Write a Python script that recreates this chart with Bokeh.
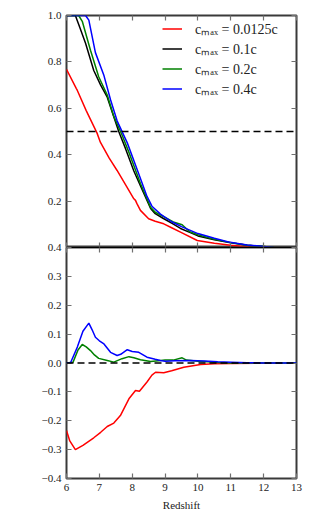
import math
from bokeh.plotting import figure
from bokeh.layouts import column
from bokeh.models import (LinearAxis, FixedTicker, Span, Label, Legend,
                          LegendItem, Range1d)
from bokeh.embed import file_html
from bokeh.resources import INLINE

# ---------------- data ----------------
z_black = [6.0, 6.27, 6.4, 6.58, 6.83, 7.04, 7.24, 7.4, 7.59, 7.8, 8.05, 8.3,
           8.56, 8.7, 8.95, 9.2, 9.47, 9.75, 10.0, 10.5, 11.0, 11.5, 12.0, 12.3]
q_black = [1.0, 1.0, 0.95, 0.88, 0.763, 0.70, 0.648, 0.58, 0.50, 0.425, 0.33,
           0.25, 0.168, 0.146, 0.125, 0.105, 0.082, 0.065, 0.05, 0.033, 0.02,
           0.01, 0.004, 0.0]

z_red = [6.0, 6.3, 6.33, 6.6, 6.93, 7.03, 7.3, 7.54, 7.8, 8.05, 8.1, 8.14,
         8.25, 8.5, 8.7, 8.96, 9.2, 9.47, 9.98, 10.5, 11.0, 11.4, 11.75]
q_red = [0.768, 0.685, 0.677, 0.59, 0.493, 0.454, 0.385, 0.332, 0.27, 0.21,
         0.203, 0.19, 0.16, 0.124, 0.113, 0.102, 0.085, 0.066, 0.03, 0.018,
         0.01, 0.004, 0.0]

z_green = [6.0, 6.37, 6.48, 6.73, 6.98, 7.24, 7.44, 7.69, 7.9, 8.25, 8.56,
           8.7, 9.0, 9.25, 9.52, 9.75, 10.0, 10.5, 11.0, 11.5, 12.0, 12.3]
q_green = [1.0, 1.0, 0.975, 0.85, 0.736, 0.657, 0.565, 0.485, 0.41, 0.276,
           0.173, 0.152, 0.13, 0.11, 0.098, 0.068, 0.055, 0.035, 0.021, 0.01,
           0.004, 0.0]

z_blue = [6.0, 6.58, 6.68, 6.88, 7.14, 7.34, 7.54, 7.85, 8.2, 8.45, 8.6, 8.86,
          9.2, 9.5, 10.0, 10.5, 10.93, 11.5, 12.0, 12.3]
q_blue = [1.0, 1.0, 0.98, 0.84, 0.741, 0.637, 0.546, 0.451, 0.317, 0.22, 0.178,
          0.144, 0.111, 0.09, 0.06, 0.04, 0.024, 0.011, 0.004, 0.0]

# differences with respect to the fiducial (c_max = 0.1c) run
dz_red = [6.0, 6.1, 6.27, 6.5, 6.83, 7.04, 7.24, 7.44, 7.64, 7.9, 8.1, 8.22,
          8.45, 8.6, 8.71, 8.96, 9.2, 9.57, 10.08, 10.5, 11.0, 12.0, 12.5]
d_red = [-0.234, -0.27, -0.30, -0.285, -0.259, -0.24, -0.22, -0.208, -0.182,
         -0.124, -0.095, -0.098, -0.066, -0.042, -0.032, -0.034, -0.027,
         -0.015, -0.005, -0.003, -0.002, -0.001, 0.0]

dz_green = [6.0, 6.2, 6.35, 6.48, 6.6, 6.73, 6.85, 6.98, 7.24, 7.44, 7.69, 7.9,
            8.05, 8.25, 8.56, 8.8, 9.0, 9.25, 9.52, 9.65, 10.0, 10.3, 10.6,
            11.0, 12.0, 13.0]
d_green = [0.0, 0.003, 0.045, 0.064, 0.056, 0.043, 0.028, 0.016, 0.009, 0.003,
           0.015, 0.022, 0.018, 0.011, 0.005, 0.008, 0.01, 0.01, 0.018, 0.01,
           0.006, 0.004, 0.002, 0.0, 0.0, 0.0]

dz_blue = [6.0, 6.12, 6.33, 6.5, 6.68, 6.78, 6.88, 7.0, 7.14, 7.34, 7.54, 7.65,
           7.85, 8.0, 8.2, 8.45, 8.7, 8.86, 9.0, 9.3, 9.77, 10.2, 10.6, 11.0,
           11.5, 12.0, 13.0]
d_blue = [0.0, 0.0, 0.055, 0.11, 0.138, 0.115, 0.089, 0.077, 0.066, 0.037,
          0.026, 0.03, 0.046, 0.04, 0.037, 0.02, 0.013, 0.009, 0.006, 0.008,
          0.009, 0.007, 0.004, 0.003, 0.001, 0.0, 0.0]

legend_labels = ["c\u2098\u2090\u2093 = 0.0125c", "c\u2098\u2090\u2093 = 0.1c",
                 "c\u2098\u2090\u2093 = 0.2c", "c\u2098\u2090\u2093 = 0.4c"]
colors = ["#ff0000", "#000000", "#008000", "#0000ff"]

q_half = 0.5
d_zero = 0.0
z_ticks = [6, 7, 8, 9, 10, 11, 12, 13]
q_ticks = [0.2, 0.4, 0.6, 0.8, 1.0]
d_ticks = [-0.4, -0.3, -0.2, -0.1, 0.0, 0.1, 0.2, 0.3, 0.4]

FONT = "Liberation Serif"
FRAME = "#3a3a3a"
TICK = "#707070"


def fmt(t, decimals):
    return f"{t:.{decimals}f}".replace("-", "\u2212")


def style_axis(ax, ticks, labels=True, decimals=1, line_color=None, line_width=1):
    ax.axis_line_color = line_color
    ax.axis_line_width = line_width
    ax.major_tick_in = 5
    ax.major_tick_out = 0
    ax.major_tick_line_color = TICK
    ax.major_tick_line_width = 1.2
    ax.minor_tick_line_color = None
    ax.major_label_text_font = FONT
    ax.major_label_text_color = "#222222"
    if labels:
        ax.major_label_overrides = {t: fmt(t, decimals) for t in ticks}
        ax.major_label_text_font_size = "11px"
        ax.major_label_standoff = 5
    else:
        ax.major_label_overrides = {t: "" for t in ticks}
        ax.major_label_text_font_size = "0px"
        ax.major_label_standoff = 0
    ax.axis_label_standoff = 0


def add_axis(p, ticks, side, **kw):
    ax = LinearAxis(ticker=FixedTicker(ticks=ticks))
    style_axis(ax, ticks, **kw)
    p.add_layout(ax, side)
    return ax


# ---------------- top panel ----------------
p1 = figure(frame_width=230, frame_height=232, x_range=Range1d(6, 13),
            y_range=Range1d(0, 1), x_axis_type=None, y_axis_type=None,
            output_backend="svg", toolbar_location=None,
            min_border_left=66, min_border_right=12, min_border_top=15,
            min_border_bottom=0)
p1.outline_line_color = FRAME
p1.outline_line_width = 2
p1.background_fill_color = "white"

add_axis(p1, q_ticks, "left", decimals=1)
add_axis(p1, q_ticks, "right", labels=False)
add_axis(p1, z_ticks, "above", labels=False)
add_axis(p1, z_ticks, "below", labels=False)

p1.add_layout(Span(location=q_half, dimension="width", line_color="black",
                   line_dash="7 4", line_width=1.5))

r_red = p1.line(z_red, q_red, line_color=colors[0], line_width=1.5)
r_black = p1.line(z_black, q_black, line_color=colors[1], line_width=1.5)
r_green = p1.line(z_green, q_green, line_color=colors[2], line_width=1.5)
r_blue = p1.line(z_blue, q_blue, line_color=colors[3], line_width=1.5)

legend = Legend(items=[LegendItem(label=l, renderers=[r]) for l, r in
                       zip(legend_labels, [r_red, r_black, r_green, r_blue])],
                location=(96, 149), padding=0, margin=0, spacing=1,
                glyph_width=20, glyph_height=13, label_height=13,
                label_standoff=13, label_text_font=FONT,
                label_text_font_size="14px", label_text_color="#222222",
                border_line_color=None, background_fill_alpha=0)
p1.add_layout(legend)

lab_kw = dict(x_units="screen", y_units="screen", angle=math.pi / 2,
              text_font=FONT, text_align="left", text_baseline="alphabetic",
              text_color="#222222")
p1.add_layout(Label(x=-33, y=114, text="Q", text_font_style="italic",
                    text_font_size="10.5px", **lab_kw))
p1.add_layout(Label(x=-31, y=121.6, text="HII", text_font_size="7.5px", **lab_kw))

# ---------------- bottom panel ----------------
p2 = figure(frame_width=230, frame_height=231, x_range=Range1d(6, 13),
            y_range=Range1d(-0.4, 0.4), x_axis_type=None, y_axis_type=None,
            output_backend="svg", toolbar_location=None,
            min_border_left=66, min_border_right=12, min_border_top=8,
            min_border_bottom=30)
p2.outline_line_color = FRAME
p2.outline_line_width = 2
p2.border_fill_color = None
p2.background_fill_color = "white"
p2.margin = (-8, 0, 0, 0)

add_axis(p2, d_ticks, "left", decimals=1)
add_axis(p2, d_ticks, "right", labels=False)
add_axis(p2, z_ticks, "above", labels=False, line_color="black", line_width=1.2)
ax_b = add_axis(p2, z_ticks, "below", decimals=0)
ax_b.axis_label = "Redshift"
ax_b.axis_label_text_font = FONT
ax_b.axis_label_text_font_style = "normal"
ax_b.axis_label_text_font_size = "11px"
ax_b.axis_label_text_color = "#222222"
ax_b.axis_label_standoff = 5

p2.add_layout(Span(location=d_zero, dimension="width", line_color="black",
                   line_dash="7 4", line_width=1.5))
p2.line(dz_red, d_red, line_color=colors[0], line_width=1.5)
p2.line(dz_green, d_green, line_color=colors[2], line_width=1.5)
p2.line(dz_blue, d_blue, line_color=colors[3], line_width=1.5)

p2.add_layout(Label(x=-39, y=65, text="Q", text_font_style="italic",
                    text_font_size="10.5px", **lab_kw))
p2.add_layout(Label(x=-37, y=72.6, text="HII", text_font_size="7.5px", **lab_kw))
p2.add_layout(Label(x=-39, y=85.5, text="\u2212", text_font_size="10.5px", **lab_kw))
p2.add_layout(Label(x=-39, y=94, text="Q", text_font_style="italic",
                    text_font_size="10.5px", **lab_kw))
p2.add_layout(Label(x=-37, y=101.6, text="HII,fiducial", text_font_size="7.5px",
                    **lab_kw))

layout = column(p1, p2, spacing=0)
open("out.html", "w").write(file_html(layout, INLINE))
